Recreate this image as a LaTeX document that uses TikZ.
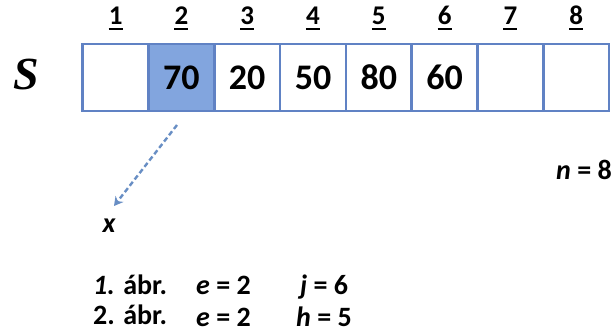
\documentclass[tikz,border=0pt]{standalone}
\usepackage{fontspec}
\setmainfont{Carlito}
\newfontfamily\serifbi{Liberation Serif}
\usetikzlibrary{arrows.meta}
\definecolor{cellborder}{RGB}{96,130,196}
\definecolor{cellfill}{RGB}{130,165,222}
\definecolor{arrowblue}{RGB}{104,142,196}
\tikzset{
  cell/.style={draw=cellborder, line width=2.6pt, minimum width=65.8pt, minimum height=67pt, inner sep=0pt, font=\fontsize{36}{36}\selectfont\bfseries},
  idx/.style={inner sep=0pt, anchor=base, font=\fontsize{27}{27}\selectfont\bfseries},
  uline/.style={line width=2.2pt},
  txt/.style={inner sep=0pt, anchor=base west, font=\fontsize{28}{28}\selectfont\bfseries},
  ptr/.style={draw=arrowblue, line width=2.4pt, dash pattern=on 5pt off 3pt, -{Stealth[length=9pt,width=10pt]}}
}
\begin{document}
\begin{tikzpicture}[x=1pt,y=-1pt]
\useasboundingbox (0,0) rectangle (615,334);
% array name
\node[inner sep=0pt, font=\fontsize{46}{46}\selectfont\serifbi\bfseries\itshape] (S) at (26,74) {S};
% the eight cells with their underlined indices
\foreach \i/\v in {1/,2/70,3/20,4/50,5/80,6/60,7/,8/} {
  \node[cell] (c\i) at ({82.7+32.9+65.8*(\i-1)},77.5) {\v};
  \node[idx] (i\i) at ({82.7+32.9+65.8*(\i-1)},25) {\i};
  \draw[uline] ([yshift=-4pt]i\i.base west) -- ([yshift=-4pt]i\i.base east);
}
% highlighted cell
\node[cell, fill=cellfill] (c2) at ({82.7+32.9+65.8},77.5) {70};
% size of the array
\node[inner sep=0pt, font=\fontsize{28}{28}\selectfont\bfseries] (n) at (584,170) {\textit{n} = 8};
% element taken out
\node[inner sep=0pt, font=\fontsize{28}{28}\selectfont\bfseries\itshape] (x) at (109,226) {x};
\coordinate (p0) at (177,125);
\coordinate (p1) at (114,206);
\draw[ptr] (p0) -- (p1);
% steps
\node[txt] (r1a) at (93,294) {\textit{1.} ábr.};
\node[txt] (r1b) at (196,294) {\textit{e} = 2};
\node[txt] (r1c) at (300,294) {\textit{j} = 6};
\node[txt] (r2a) at (93,324) {2. ábr.};
\node[txt] (r2b) at (196,326) {\textit{e} = 2};
\node[txt] (r2c) at (296,326) {\textit{h} = 5};
\end{tikzpicture}
\end{document}
